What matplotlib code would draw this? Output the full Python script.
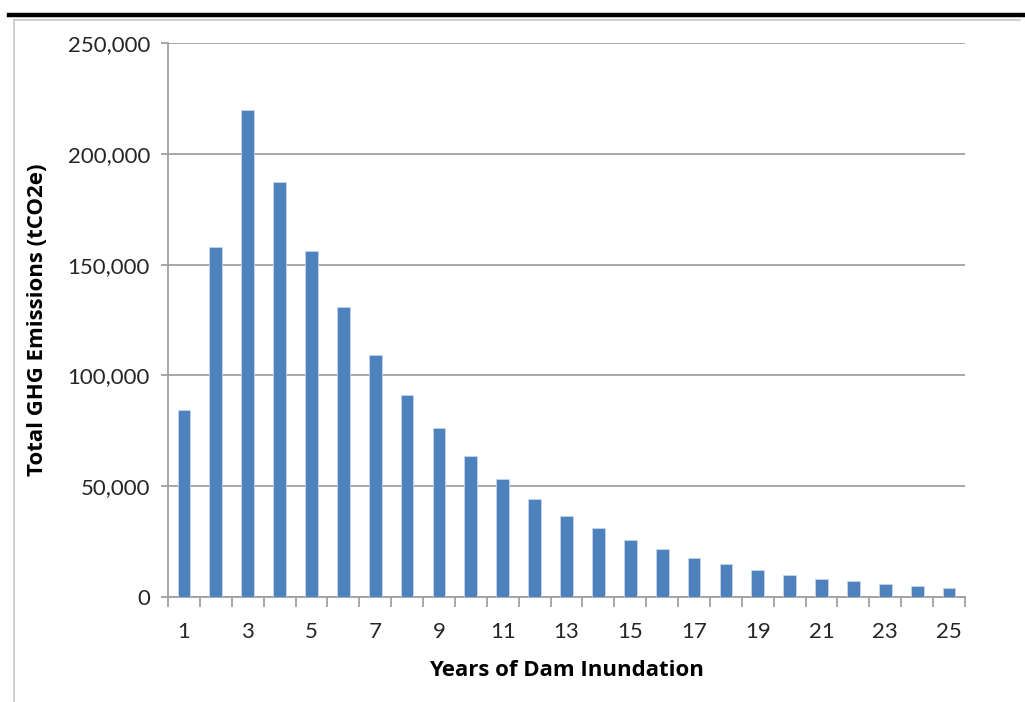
import matplotlib
matplotlib.use('Agg')
import matplotlib.pyplot as plt
from matplotlib.lines import Line2D
from matplotlib.ticker import FuncFormatter

years = list(range(1, 26))
emissions = [84200, 157800, 219800, 187400, 156000, 130900, 109200, 91150,
             76100, 63500, 53100, 44200, 36500, 31000, 25600, 21500, 17500,
             14700, 12300, 10000, 8300, 7100, 6000, 4800, 4200]
yticks = [0, 50000, 100000, 150000, 200000, 250000]
xlabels = [1, 3, 5, 7, 9, 11, 13, 15, 17, 19, 21, 23, 25]

plt.rcParams['font.family'] = ['Lato', 'DejaVu Sans']

fig = plt.figure(figsize=(10.25, 7.02), dpi=100)
ax = fig.add_axes([168/1025, 1 - 597/702, (965-168)/1025, (597-43)/702])

grey = '#a0a0a0'
ax.bar(years, emissions, width=0.4, color='#4f81bd', edgecolor='#c6d6ea',
       linewidth=0.6, zorder=3)

ax.set_xlim(0.5, 25.5)
ax.set_ylim(0, 250000)
ax.set_yticks(yticks)
ax.yaxis.set_major_formatter(FuncFormatter(lambda v, p: f'{int(v):,}'))
ax.grid(axis='y', color=grey, linewidth=1.3, zorder=0)

ax.set_xticks(xlabels)
ax.set_xticks([i + 0.5 for i in range(0, 26)], minor=True)
ax.tick_params(axis='x', which='major', length=0, pad=18, labelsize=16,
               labelcolor='#262626')
ax.tick_params(axis='x', which='minor', length=7, width=1.3, color=grey,
               direction='out')
ax.tick_params(axis='y', length=5, width=1.3, color=grey, pad=8,
               labelsize=16, labelcolor='#262626')

for s in ['top', 'right']:
    ax.spines[s].set_visible(False)
for s in ['left', 'bottom']:
    ax.spines[s].set_color(grey)
    ax.spines[s].set_linewidth(1.3)

lab = dict(fontsize=16, fontweight='bold', family=['Open Sans', 'DejaVu Sans'])
ax.set_xlabel('Years of Dam Inundation', labelpad=13, **lab)
ax.set_ylabel('Total GHG Emissions (tCO2e)', labelpad=14, **lab)

# page frame: heavy rule on top, thin grey box edge below it
fig.add_artist(Line2D([9/1025, 1], [1 - 15/702] * 2, color='black',
                      linewidth=3.2, transform=fig.transFigure))
fig.add_artist(Line2D([14/1025, 1020/1025], [1 - 20/702] * 2, color='#c8c8c8',
                      linewidth=1.2, transform=fig.transFigure))
fig.add_artist(Line2D([14/1025, 14/1025], [0, 1 - 20/702], color='#c8c8c8',
                      linewidth=1.2, transform=fig.transFigure))

fig.savefig('out.png', dpi=100)
